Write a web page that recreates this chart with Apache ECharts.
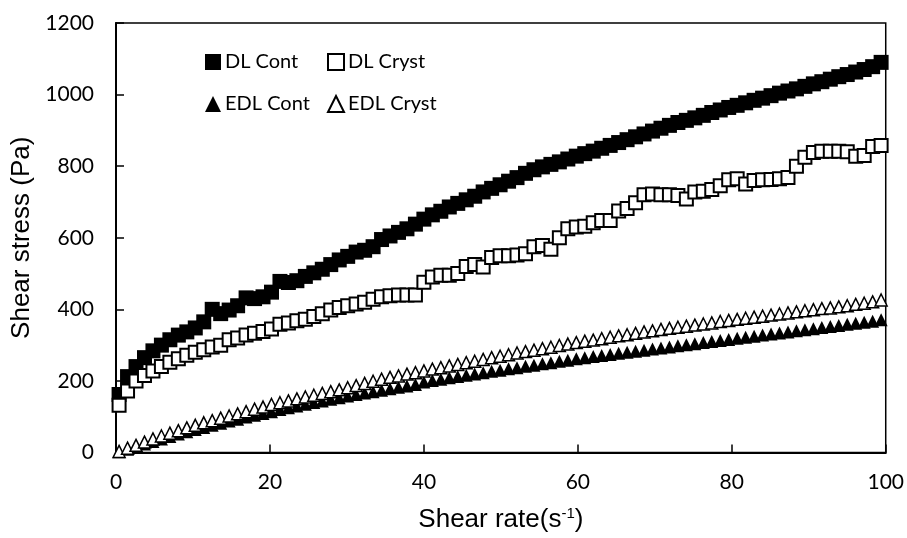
<!DOCTYPE html>
<html>
<head>
<meta charset="utf-8">
<script src="https://cdn.jsdelivr.net/npm/echarts@6/dist/echarts.min.js"></script>
<style>
  html, body { margin: 0; padding: 0; background: #fff; }
  #chart { width: 907px; height: 538px; }
</style>
</head>
<body>
<div id="chart"></div>
<script>
// shear rate (1/s), same for all four series
const shearRate = [
  0.4, 1.5, 2.6, 3.7, 4.8, 5.9, 7.0, 8.1, 9.2, 10.3,
  11.4, 12.5, 13.6, 14.7, 15.8, 16.9, 18.0, 19.1, 20.2, 21.3,
  22.4, 23.5, 24.6, 25.7, 26.8, 27.9, 29.0, 30.1, 31.2, 32.3,
  33.4, 34.5, 35.6, 36.7, 37.8, 38.9, 40.0, 41.1, 42.2, 43.3,
  44.4, 45.5, 46.6, 47.7, 48.8, 49.9, 51.0, 52.1, 53.2, 54.3,
  55.4, 56.5, 57.6, 58.7, 59.8, 60.9, 62.0, 63.1, 64.2, 65.3,
  66.4, 67.5, 68.6, 69.7, 70.8, 71.9, 73.0, 74.1, 75.2, 76.3,
  77.4, 78.5, 79.6, 80.7, 81.8, 82.9, 84.0, 85.1, 86.2, 87.3,
  88.4, 89.5, 90.6, 91.7, 92.8, 93.9, 95.0, 96.1, 97.2, 98.3,
  99.4
]

const dlCont = [
  162, 212, 240, 265, 284, 300, 315, 328, 337, 348,
  365, 400, 388, 398, 410, 432, 430, 435, 448, 478,
  475, 480, 492, 502, 512, 525, 538, 548, 560, 565,
  575, 595, 605, 615, 625, 638, 652, 664, 674, 686,
  696, 706, 716, 728, 738, 748, 758, 768, 780, 790,
  798, 805, 812, 820, 828, 835, 842, 850, 858, 866,
  874, 882, 890, 898, 906, 914, 922, 928, 935, 942,
  950, 957, 964, 970, 977, 984, 990, 997, 1004, 1010,
  1016, 1023, 1030, 1036, 1043, 1050, 1056, 1063, 1070, 1078,
  1090
]

const dlCryst = [
  132, 172, 200, 215, 228, 240, 252, 262, 272, 280,
  287, 295, 300, 315, 320, 328, 333, 338, 345, 358,
  362, 368, 372, 380, 388, 398, 405, 410, 415, 420,
  428, 435, 438, 440, 440, 440, 476, 490, 495, 495,
  500, 520, 525, 518, 545, 550, 550, 552, 555, 575,
  578, 568, 600, 625, 630, 632, 642, 648, 648, 675,
  682, 698, 720, 722, 720, 720, 718, 708, 728, 730,
  735, 745, 762, 765, 750, 760, 762, 763, 765, 768,
  800, 825, 838, 842, 842, 842, 840, 828, 830, 855,
  858
]

const edlCont = [
  2, 9, 16, 24, 31, 38, 45, 52, 58, 64,
  70, 76, 82, 88, 93, 99, 104, 109, 114, 120,
  125, 130, 135, 140, 144, 149, 153, 158, 162, 166,
  170, 174, 178, 182, 186, 190, 197, 201, 205, 209,
  212, 216, 219, 223, 227, 230, 234, 237, 241, 244,
  248, 251, 255, 258, 262, 265, 268, 271, 274, 277,
  280, 283, 286, 289, 292, 295, 298, 301, 304, 307,
  310, 313, 316, 319, 322, 325, 328, 331, 334, 337,
  340, 343, 346, 349, 352, 355, 358, 361, 364, 367,
  371
]

const edlCryst = [
  3, 12, 20, 29, 38, 46, 54, 61, 69, 76,
  83, 89, 96, 102, 108, 114, 121, 127, 134, 139,
  144, 150, 155, 160, 165, 170, 175, 181, 187, 193,
  199, 205, 210, 214, 219, 223, 228, 233, 237, 242,
  246, 251, 255, 260, 265, 269, 273, 278, 282, 286,
  290, 294, 299, 303, 307, 311, 314, 318, 322, 326,
  329, 333, 337, 340, 344, 347, 350, 353, 356, 359,
  362, 366, 369, 372, 375, 378, 381, 384, 387, 390,
  393, 396, 399, 402, 404, 407, 410, 414, 417, 421,
  426
]

const seriesNames = ['DL Cont', 'DL Cryst', 'EDL Cont', 'EDL Cryst']

const pairs = values => values.map((v, i) => [shearRate[i], v])

const tickFont = { color: '#000', fontFamily: 'Lato', fontSize: 21 }
const titleFont = { color: '#000', fontFamily: 'Liberation Sans, Arial', fontSize: 26 }

function legendAt(name, left, top) {
  return {
    data: [name],
    left: left,
    top: top,
    padding: 0,
    itemWidth: 16,
    itemHeight: 16,
    itemGap: 0,
    selectedMode: false,
    textStyle: { color: '#000', fontFamily: 'Lato', fontSize: 20, padding: [0, 0, 0, -1] }
  }
}

const chart = echarts.init(document.getElementById('chart'))

const option = {
  animation: false,
  backgroundColor: '#fff',
  legend: [
    legendAt(seriesNames[0], 205, 52),
    legendAt(seriesNames[1], 327, 52),
    legendAt(seriesNames[2], 205, 94),
    legendAt(seriesNames[3], 327, 94)
  ],
  grid: {
    left: 116,
    right: 19,
    top: 23,
    bottom: 84,
    show: true,
    borderColor: '#000',
    borderWidth: 1.5
  },
  xAxis: {
    type: 'value',
    min: 0,
    max: 100,
    interval: 20,
    name: 'Shear rate(s{sup|-1})',
    nameLocation: 'middle',
    nameGap: 54,
    nameTextStyle: {
      ...titleFont,
      rich: {
        sup: { fontFamily: 'Liberation Sans, Arial', fontSize: 15, color: '#000', verticalAlign: 'top', padding: [0, 0, 12, 0] }
      }
    },
    axisLine: { lineStyle: { color: '#000', width: 2 } },
    axisTick: { inside: true, length: 8, lineStyle: { color: '#000', width: 1.5 } },
    axisLabel: { ...tickFont, margin: 19 },
    splitLine: { show: false }
  },
  yAxis: {
    type: 'value',
    min: 0,
    max: 1200,
    interval: 200,
    name: 'Shear stress (Pa)',
    nameLocation: 'middle',
    nameGap: 80,
    nameTextStyle: titleFont,
    axisLine: { show: true, lineStyle: { color: '#000', width: 2 } },
    axisTick: { show: true, inside: true, length: 8, lineStyle: { color: '#000', width: 1.5 } },
    axisLabel: { ...tickFont, margin: 22, formatter: v => String(v) },
    splitLine: { show: false }
  },
  series: [
    {
      name: seriesNames[0],
      type: 'scatter',
      symbol: 'rect',
      symbolSize: 15,
      itemStyle: { color: '#000', opacity: 1 },
      data: pairs(dlCont)
    },
    {
      name: seriesNames[1],
      type: 'scatter',
      symbol: 'rect',
      symbolSize: 13,
      itemStyle: { color: '#fff', borderColor: '#000', borderWidth: 2, opacity: 1 },
      data: pairs(dlCryst)
    },
    {
      name: seriesNames[2],
      type: 'scatter',
      symbol: 'triangle',
      symbolSize: 13,
      itemStyle: { color: '#000', opacity: 1 },
      data: pairs(edlCont)
    },
    {
      name: seriesNames[3],
      type: 'scatter',
      symbol: 'triangle',
      symbolSize: 12,
      itemStyle: { color: '#fff', borderColor: '#000', borderWidth: 1.5, opacity: 1 },
      data: pairs(edlCryst)
    }
  ]
}

chart.setOption(option)
</script>
</body>
</html>
